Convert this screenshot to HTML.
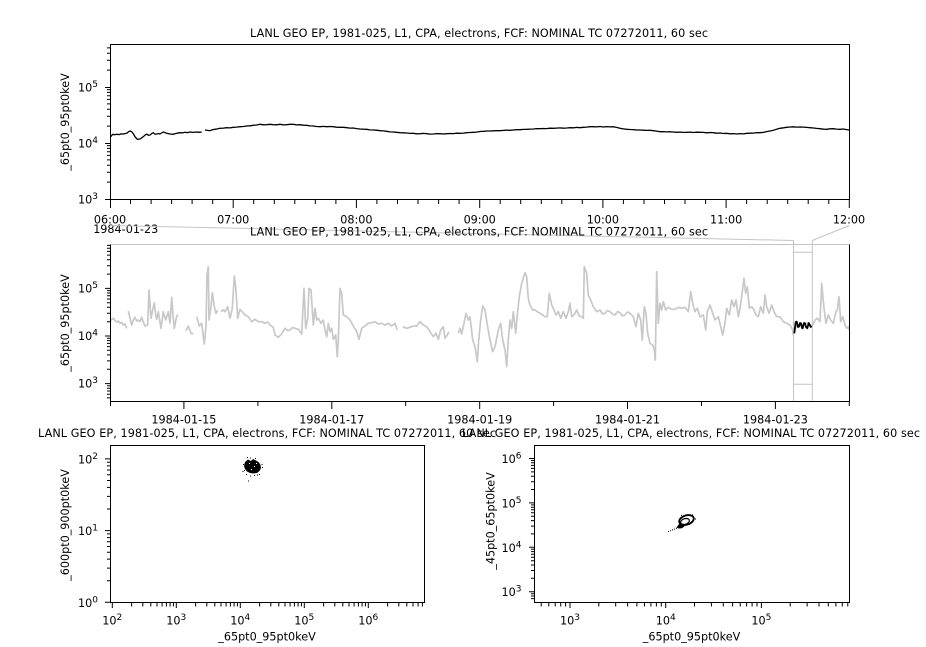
<!DOCTYPE html>
<html><head><meta charset="utf-8"><style>
html,body{margin:0;padding:0;background:#fff;}
svg{display:block;}
text{font-family:"DejaVu Sans","Liberation Sans",sans-serif;font-size:11.2px;fill:#000;}
.sup{font-size:9px;}
</style></head><body>
<svg width="926" height="647" viewBox="0 0 926 647" xmlns="http://www.w3.org/2000/svg">
<rect width="926" height="647" fill="#fff"/>

<!-- ================= TOP PANEL ================= -->
<text x="479" y="37" text-anchor="middle" textLength="458" lengthAdjust="spacing">LANL GEO EP, 1981-025, L1, CPA, electrons, FCF: NOMINAL TC 07272011, 60 sec</text>
<rect x="110.5" y="44.5" width="739" height="155" fill="none" stroke="#000" stroke-width="1"/>
<!-- y ticks -->
<path stroke="#000" stroke-width="1" fill="none" d="
M105,199.5H110 M105,143.5H110 M105,87.5H110
M107,182.1H110 M107,172.3H110 M107,165.3H110 M107,159.9H110 M107,155.4H110 M107,151.7H110 M107,148.4H110 M107,145.6H110
M107,126.1H110 M107,116.3H110 M107,109.3H110 M107,103.9H110 M107,99.4H110 M107,95.7H110 M107,92.4H110 M107,89.6H110
M107,70.1H110 M107,60.3H110 M107,53.3H110 M107,47.9H110"/>
<text x="98" y="91.5" text-anchor="end">10<tspan class="sup" dy="-4.5">5</tspan></text>
<text x="98" y="147.5" text-anchor="end">10<tspan class="sup" dy="-4.5">4</tspan></text>
<text x="98" y="203.5" text-anchor="end">10<tspan class="sup" dy="-4.5">3</tspan></text>
<text transform="translate(69,122) rotate(-90)" text-anchor="middle">_65pt0_95pt0keV</text>
<!-- x ticks -->
<path stroke="#000" stroke-width="1" fill="none" d="
M110.5,200V208 M233.2,200V208 M356.4,200V208 M479.7,200V208 M602.9,200V208 M726.1,200V208 M849.3,200V208
M130.5,200V204 M151.1,200V204 M171.6,200V204 M192.1,200V204 M212.7,200V204
M253.7,200V204 M274.3,200V204 M294.8,200V204 M315.3,200V204 M335.9,200V204
M376.9,200V204 M397.5,200V204 M418,200V204 M438.6,200V204 M459.1,200V204
M500.2,200V204 M520.7,200V204 M541.3,200V204 M561.8,200V204 M582.3,200V204
M623.4,200V204 M644,200V204 M664.5,200V204 M685,200V204 M705.6,200V204
M746.6,200V204 M767.2,200V204 M787.7,200V204 M808.2,200V204 M828.8,200V204"/>
<text x="110" y="223.5" text-anchor="middle">06:00</text>
<text x="233.2" y="223.5" text-anchor="middle">07:00</text>
<text x="356.4" y="223.5" text-anchor="middle">08:00</text>
<text x="479.7" y="223.5" text-anchor="middle">09:00</text>
<text x="602.9" y="223.5" text-anchor="middle">10:00</text>
<text x="726.1" y="223.5" text-anchor="middle">11:00</text>
<text x="849" y="223.5" text-anchor="middle">12:00</text>
<text x="93.2" y="233.2">1984-01-23</text>
<!-- top data -->
<polyline fill="none" stroke="#000" stroke-width="1.3" stroke-linejoin="round" points="110.7,136.7 112.7,134.3 114.5,134.8 116.7,134.3 119,134.6 121,133.9 123.3,134 126.7,133.3 128.5,131.8 130,131 131.7,131.7 133.5,134 135,136.7 137.3,139.3 140,139 143.3,136.7 145,135.2 146.7,134 148.5,135.3 150,135 151.7,133.6 153.3,132.7 155,134.2 156.7,134 158.5,133.5 160,134 163.3,132 166.7,133.3 170,134 173.3,134.3 176.7,133.3 180,132.7 182.5,132.9 185,132.3 187.5,132.6 190,132 193,132.4 196.7,132 199,132.3 201.7,132"/>
<polyline fill="none" stroke="#000" stroke-width="1.3" stroke-linejoin="round" points="205,130 207.5,130.4 210,130.7 212.5,129.7 215,129.3 217.5,128.9 220,128.3 223.5,128.1 226.7,127.7 230,127.9 233.3,127.3 236.5,127.1 240,126.7 243.5,126.5 246.7,126 250,125.8 253.3,125.3 256.5,125 260,124.3 263.5,124.8 266.7,124.7 270,124.3 273.3,124.7 276.5,124.8 280,124.3 283.5,124.9 286.7,124.7 290,124.3 293.3,124.3 296.5,124.9 300,124.7 303.5,125.2 306.7,125.3 310,125.9 313.3,126 316.5,126.5 320,126.7 323.5,126.4 326.7,126.7 330,126.5 333.3,126.7 336.5,127.2 340,127.3 343.5,127.3 346.7,127.7 350,128.1 353.3,128 356.5,128.6 360,129 363.5,129.2 366.7,129.3 370,129.9 373.3,130 376.5,130.2 380,130.7 383.5,130.9 386.7,131.3 390,131.9 393.3,132 396.5,132.3 400,132.7 403.5,132.8 406.7,133 410,133.4 413.3,133.3 416.5,133.8 420,133.7 423.5,133.4 426.7,133.7 430,134.1 433.3,134 436.5,133.6 440,133.7 443.5,134 446.7,133.7 450,133.5 453.5,133.6 456.5,133.2 460,133.3 463.5,133.1 466.5,132.7 470,132.5 473.3,132.3 476.5,132.1 480,131.5 483.5,131.3 486.7,131 490,131 493.5,130.8 496.5,130.6 500,130.7 503.5,130.4 506.5,130.2 510,130.3 513.3,130 516.5,129.7 520,129.7 523.5,129.4 526.7,129.3 530,129.1 533.5,129 536.5,128.6 540,128.7 543.5,128.5 546.5,128.6 550,128.2 553.3,128.3 556.5,128.1 560,127.9 563.5,128.2 566.7,128 570,127.7 573.5,127.8 576.5,127.4 580,127.7 583.5,127.3 586.5,127.1 590,126.7 593.3,126.7 596.5,126.9 600,126.5 603.3,127 606.5,126.6 610,126.9 613.3,126.7 616.5,127.4 620,128.3 623.5,128.9 626.7,129.3 630,129.5 633.5,129.6 636.5,130 640,130 643.5,130.2 646.5,130.4 650,130.3 653.3,130.7 656.5,131.1 660,131.7 663.5,131.6 666.5,131.9 670,131.8 673.3,132 676.5,132.3 680,132.1 683.5,132.4 686.7,132.3 690,132.1 693.5,132.5 696.5,132.2 700,132.3 703.5,132.4 706.5,132.8 710,132.5 713.3,132.7 716.5,133.2 720,133 723.5,133.5 726.7,133.3 730,133.8 733.5,133.6 736.7,134 740,133.6 743.5,133.9 746.7,133.3 750,133.2 753.5,133.1 756.5,132.6 760,132.7 763.5,132.4 766.5,131.6 770,131 773.5,130.3 776.5,129.2 780,128.3 783.5,127.8 786.5,127.3 790,127 793.5,126.8 796.5,127.1 800,127 803.5,127.1 806.5,127.4 810,127.7 813.5,128 816.5,128.4 820,128.7 823.5,129.2 826.7,129.3 830,128.8 833.3,128.7 836.5,129.1 840,129.3 843.5,129 846.5,129.6 849.3,130"/>

<!-- ================= CONNECTORS ================= -->
<path stroke="#c4c4c4" stroke-width="1" fill="none" d="M110,225.5 L793.5,240.5 M849.3,225.5 L812.3,240.5 M793.5,240.5V401 M812.3,240.5V401 M793.5,252.3H812.3 M793.5,384.3H812.3"/>

<!-- ================= MIDDLE PANEL ================= -->
<text x="479" y="235.5" text-anchor="middle" textLength="458" lengthAdjust="spacing">LANL GEO EP, 1981-025, L1, CPA, electrons, FCF: NOMINAL TC 07272011, 60 sec</text>
<g fill="none" stroke="#c8c8c8" stroke-width="1.7" stroke-linejoin="round">
<polyline points="110,321.7 111.5,319.5 113.3,318.3 115,320.6 116.7,322 118.3,321 120,323.3 121.7,322.4 123.3,325 125,324 126.7,328.3"/>
<polyline points="128.3,311 130,318 131.7,325 133.3,320 135,317.3 136.7,321 138.3,320 140,321.5 141.7,317.3 143.3,322 145,326 147.7,325 149,290 150,305 151,318.3 152.7,310 154.3,302.7 155.7,315 156.7,319.3 158.3,311.7 161,328.3 163.3,311.7 165.7,320 168.3,311.7 170,323.3 171.7,297.3 173,315 174.3,328.3 176.7,316 178.3,315"/>
<polyline points="186,330.7 188.3,326 191,333.3 193.3,334"/>
<polyline points="196.7,316.7 199.3,326 201.7,323.3 204.3,344 206,326 207,275 208.3,266.7 209,320 211,306.7 212.3,292.7 214.3,306.7 216,313.3 217.7,310"/>
<polyline points="221,311.7 223,309.8 225,311.7 227.7,306.7 230,318.3 232.3,308.3 234.3,276 235.7,286.7 237.7,318.3 240,309.3 242.3,311.7 245,315 248.3,316.7 251.7,321.7 255,319.3 258.3,321.7 261.7,321.7 265,323.3 267.5,322 270,325 273.3,327.3 275,335 278.3,337.3 281.7,334 285,328.3 287.5,330.5 290,330 292.5,327.5 295,328.3 298.3,329.3 301.7,334 304,288.3 305.7,328.3 307.7,318.3 309,288.3 311,290 313.3,325 315,308.3 316.7,320 318.3,318.3 321,323.3 323.3,320 325,330 326.7,336.7 328.3,323.3 330,331.7 331.7,328.3 333.3,339.3 335.7,335 337.3,356.7 338.3,340 340,288.3 341.7,293.3 343.3,315 346.7,316.7 350,320 353.3,326 356.7,331.7 359,339.3 361.7,328.3 365,326 368.3,323.3 371.7,322.7 375,321.7 378.3,324 381.7,323.3 385,325 388.3,323.3 391.7,326 395,323.3 397.3,330"/>
<polyline points="402.7,326.7 406.7,328.3 410,327.3 413.3,326 416.7,326 420,321.7 423.3,325 426.7,326.7 430,331.7 433.3,336.7 436,333.3 438.3,339.3 440.7,330 443.3,326.7 445,338.3 447.3,335 448.7,331.7"/>
<polyline points="458.3,333.3 460,328.3 461.7,334 463.3,326.7 466,313.3 468.3,320 470,316.7 472.7,340 475,346.7 477.3,361.7 478.7,340 480.7,320 482.7,306 485,310 487.3,325 490,340 492.7,351.7 495,346.7 498.3,330 500.7,323.3 502.7,340 505,350 506.7,366.7 508.3,340 510,320 511.7,328.3 513.3,311.7 515.7,333.3 517.3,315 519.3,296.7 521.7,283.3 523.3,278.3 525,272.7 526.7,276.7 528.3,298.3 530,305 532.7,310 535,310 537.3,311.7 540,313.3 542.7,315 545,316.7 547.3,316.7 549.3,293.3 551.7,305 554,310 556,315 558.3,311.7 560.7,318.3 563.3,311.7 566,318.3 568.3,311.7 570,303.3 571.7,316.7 574,315 576.7,310 579.3,316 581.7,316.7 583.3,318.3 584.3,266.7 586.7,273.3 588.3,295 590.7,300 593.3,306.7 596.7,311.7 600,310 602.5,314 605,313.3 607.5,310.5 610,311.7 612.5,314 615,315 617.5,311.5 620,312.7 622.5,316 625,315 627.5,312 630,313.3 633.3,316.7 636,326.7 638.3,313.3 640.7,320 642.3,340 644.3,306.7 646,313.3 647.7,333.3 650,343.3 652.7,345 654.3,350 655.3,360 656.7,271.7 658.3,323.3 660,303.3 661.7,310 663.3,301.7 665.7,310 668.3,307.3 671.7,309.3 675,309.3 678.3,307.3 681.7,308.3 685,307.3 688.3,311.7 690.7,291.7 692.7,303.3 695,311.7 697.3,308.3 700,316.7 703.3,315 705.7,330 707.3,311.7 710,305 712.7,313.3 715,320 718.3,316.7 720.7,326.7 722.7,335 725,323.3 726.7,308.3 729.3,315 731.7,300 734,306.7 736,300 738.3,316.7 740,308.3 742.3,291.7 744,278.3 745.7,293.3 747.3,286.7 749.3,308.3 751.7,306.7 754,310 756,315 758.3,316.7 760.7,306.7 763.3,313.3 765,295 766.7,306.7 769,313.3 771.7,305 774,311.7 776.7,316.7 780,316.7 783.3,321.7 786.7,323.3 790,325 792.7,330 793.3,335 796.7,325 801.7,325 806.7,323 811.7,326 812.7,325 815,320 817.3,318.3 820,321.7 821.7,283.3 824,308.3 826,323.3 828.3,315 830.7,320 833.3,323.3 836,311.7 837.3,310 839,296.7 840.7,321.7 842.7,316.7 845,325 846.7,328.3 848.3,326.7 849,330"/>
</g>
<polyline fill="none" stroke="#000" stroke-width="1.8" stroke-linejoin="round" points="794.3,333.3 795.7,322 796.7,321.7 798,327 799,326.7 800,323 801,323.3 802,328 802.7,328.3 804,323 805,323.3 806,327 807.3,328.3 808.7,323 809.3,324 810.7,327 811.7,326"/>
<!-- frame -->
<path stroke="#c4c4c4" stroke-width="1" fill="none" d="M110.5,244.5H849.5"/>
<path stroke="#000" stroke-width="1" fill="none" d="M110.5,244.5V401.5H849.5V244.5"/>
<!-- y ticks -->
<path stroke="#000" stroke-width="1" fill="none" d="
M105,383.6H110 M105,336H110 M105,288.4H110
M107,397.9H110 M107,394.2H110 M107,391H110 M107,388.2H110 M107,385.8H110
M107,369.3H110 M107,360.9H110 M107,354.9H110 M107,350.3H110 M107,346.6H110 M107,343.4H110 M107,340.6H110 M107,338.2H110
M107,321.7H110 M107,313.3H110 M107,307.3H110 M107,302.7H110 M107,299H110 M107,295.8H110 M107,293H110 M107,290.6H110
M107,274.1H110 M107,265.7H110 M107,259.7H110 M107,255.1H110 M107,251.4H110 M107,248.2H110 M107,245.4H110"/>
<text x="98" y="292.5" text-anchor="end">10<tspan class="sup" dy="-4.5">5</tspan></text>
<text x="98" y="340" text-anchor="end">10<tspan class="sup" dy="-4.5">4</tspan></text>
<text x="98" y="387.6" text-anchor="end">10<tspan class="sup" dy="-4.5">3</tspan></text>
<text transform="translate(69,323) rotate(-90)" text-anchor="middle">_65pt0_95pt0keV</text>
<!-- x ticks -->
<path stroke="#000" stroke-width="1" fill="none" d="
M183.9,402V409 M331.8,402V409 M479.7,402V409 M627.5,402V409 M775.4,402V409
M110.5,402V406 M257.9,402V406 M405.7,402V406 M553.6,402V406 M701.5,402V406 M849.3,402V406"/>
<text x="183.9" y="423.5" text-anchor="middle">1984-01-15</text>
<text x="331.8" y="423.5" text-anchor="middle">1984-01-17</text>
<text x="479.7" y="423.5" text-anchor="middle">1984-01-19</text>
<text x="627.5" y="423.5" text-anchor="middle">1984-01-21</text>
<text x="775.4" y="423.5" text-anchor="middle">1984-01-23</text>

<!-- ================= BOTTOM LEFT ================= -->
<text x="267" y="436.8" text-anchor="middle" textLength="458" lengthAdjust="spacing">LANL GEO EP, 1981-025, L1, CPA, electrons, FCF: NOMINAL TC 07272011, 60 sec</text>
<rect x="110.5" y="445.5" width="314" height="157" fill="none" stroke="#000" stroke-width="1"/>
<path stroke="#000" stroke-width="1" fill="none" d="
M105,602.3H110 M105,530.6H110 M105,458.9H110
M107,580.7H110 M107,568.1H110 M107,559.1H110 M107,552.2H110 M107,546.5H110 M107,541.7H110 M107,537.6H110 M107,533.9H110
M107,509H110 M107,496.4H110 M107,487.4H110 M107,480.5H110 M107,474.8H110 M107,470H110 M107,465.9H110 M107,462.2H110"/>
<text x="98" y="606.8" text-anchor="end">10<tspan class="sup" dy="-4.5">0</tspan></text>
<text x="98" y="535.1" text-anchor="end">10<tspan class="sup" dy="-4.5">1</tspan></text>
<text x="98" y="463.4" text-anchor="end">10<tspan class="sup" dy="-4.5">2</tspan></text>
<text transform="translate(69,525) rotate(-90)" text-anchor="middle">_600pt0_900pt0keV</text>
<path stroke="#000" stroke-width="1" fill="none" d="
M112.3,603V608 M176.3,603V608 M240.3,603V608 M304.3,603V608 M368.3,603V608
M131.6,603V606.5 M142.8,603V606.5 M150.8,603V606.5 M157,603V606.5 M162.1,603V606.5 M166.4,603V606.5 M170.1,603V606.5 M173.4,603V606.5
M195.6,603V606.5 M206.8,603V606.5 M214.8,603V606.5 M221,603V606.5 M226.1,603V606.5 M230.4,603V606.5 M234.1,603V606.5 M237.4,603V606.5
M259.6,603V606.5 M270.8,603V606.5 M278.8,603V606.5 M285,603V606.5 M290.1,603V606.5 M294.4,603V606.5 M298.1,603V606.5 M301.4,603V606.5
M323.6,603V606.5 M334.8,603V606.5 M342.8,603V606.5 M349,603V606.5 M354.1,603V606.5 M358.4,603V606.5 M362.1,603V606.5 M365.4,603V606.5
M387.6,603V606.5 M398.8,603V606.5 M406.8,603V606.5 M413,603V606.5 M418.1,603V606.5 M422.4,603V606.5"/>
<text x="112.3" y="624.5" text-anchor="middle">10<tspan class="sup" dy="-4.5">2</tspan></text>
<text x="176.3" y="624.5" text-anchor="middle">10<tspan class="sup" dy="-4.5">3</tspan></text>
<text x="240.3" y="624.5" text-anchor="middle">10<tspan class="sup" dy="-4.5">4</tspan></text>
<text x="304.3" y="624.5" text-anchor="middle">10<tspan class="sup" dy="-4.5">5</tspan></text>
<text x="368.3" y="624.5" text-anchor="middle">10<tspan class="sup" dy="-4.5">6</tspan></text>
<text x="267" y="640.5" text-anchor="middle">_65pt0_95pt0keV</text>
<!-- scatter blob -->
<path fill="#000" d="M245,462 L248,459.5 L251,461 L253,459 L256,460.5 L259,462.5 L260.5,465 L261,468 L259.5,471 L257,473 L253.5,473.5 L250,473 L247,471.5 L245,469 L244,466 Z"/>
<g fill="#000">
<rect x="247" y="457" width="1" height="1"/><rect x="250" y="457.5" width="1" height="1"/><rect x="255" y="458" width="1" height="1"/>
<rect x="242.5" y="471" width="1" height="1"/><rect x="244" y="470" width="1" height="1"/><rect x="248" y="480.5" width="1" height="1"/>
<rect x="262" y="467" width="1" height="1"/><rect x="261.5" y="464" width="1" height="1"/><rect x="250" y="475.5" width="1" height="1"/>
<rect x="254" y="475" width="1" height="1"/><rect x="257" y="474.5" width="1" height="1"/><rect x="246" y="474" width="1" height="1"/>
<rect x="243" y="464" width="1" height="1"/><rect x="259" y="474" width="1" height="1"/>
</g>
<g fill="#fff">
<rect x="249" y="463" width="1" height="1"/><rect x="254" y="466" width="1" height="1"/><rect x="251" y="469" width="1" height="1"/><rect x="256" y="463" width="1" height="1"/>
</g>

<!-- ================= BOTTOM RIGHT ================= -->
<text x="691" y="436.8" text-anchor="middle" textLength="458" lengthAdjust="spacing">LANL GEO EP, 1981-025, L1, CPA, electrons, FCF: NOMINAL TC 07272011, 60 sec</text>
<rect x="534.5" y="445.5" width="315" height="157" fill="none" stroke="#000" stroke-width="1"/>
<path stroke="#000" stroke-width="1" fill="none" d="
M529,591.7H534 M529,547.3H534 M529,502.9H534 M529,458.5H534
M531,598.6H534 M531,596H534 M531,593.7H534
M531,578.3H534 M531,570.5H534 M531,565H534 M531,560.7H534 M531,557.2H534 M531,554.2H534 M531,551.6H534 M531,549.3H534
M531,533.9H534 M531,526.1H534 M531,520.6H534 M531,516.3H534 M531,512.8H534 M531,509.8H534 M531,507.2H534 M531,504.9H534
M531,489.5H534 M531,481.7H534 M531,476.2H534 M531,471.9H534 M531,468.4H534 M531,465.4H534 M531,462.8H534 M531,460.5H534"/>
<text x="521.5" y="596.2" text-anchor="end">10<tspan class="sup" dy="-4.5">3</tspan></text>
<text x="521.5" y="551.8" text-anchor="end">10<tspan class="sup" dy="-4.5">4</tspan></text>
<text x="521.5" y="507.4" text-anchor="end">10<tspan class="sup" dy="-4.5">5</tspan></text>
<text x="521.5" y="463" text-anchor="end">10<tspan class="sup" dy="-4.5">6</tspan></text>
<text transform="translate(494.5,521) rotate(-90)" text-anchor="middle">_45pt0_65pt0keV</text>
<path stroke="#000" stroke-width="1" fill="none" d="
M570,603V608 M665.7,603V608 M761.4,603V608
M541.2,603V606.5 M548.8,603V606.5 M555.2,603V606.5 M560.7,603V606.5 M565.6,603V606.5
M598.8,603V606.5 M615.7,603V606.5 M627.6,603V606.5 M636.9,603V606.5 M644.5,603V606.5 M650.9,603V606.5 M656.4,603V606.5 M661.3,603V606.5
M694.5,603V606.5 M711.4,603V606.5 M723.3,603V606.5 M732.6,603V606.5 M740.2,603V606.5 M746.6,603V606.5 M752.1,603V606.5 M757,603V606.5
M790.2,603V606.5 M807.1,603V606.5 M819,603V606.5 M828.3,603V606.5 M835.9,603V606.5 M842.3,603V606.5 M847.8,603V606.5"/>
<text x="570" y="624.5" text-anchor="middle">10<tspan class="sup" dy="-4.5">3</tspan></text>
<text x="665.7" y="624.5" text-anchor="middle">10<tspan class="sup" dy="-4.5">4</tspan></text>
<text x="761.4" y="624.5" text-anchor="middle">10<tspan class="sup" dy="-4.5">5</tspan></text>
<text x="691.5" y="640.5" text-anchor="middle">_65pt0_95pt0keV</text>
<!-- loop scatter -->
<ellipse cx="686.5" cy="520" rx="7.5" ry="4.6" transform="rotate(-18 686.5 520)" fill="none" stroke="#000" stroke-width="1.9"/>
<ellipse cx="685" cy="521.5" rx="4.5" ry="2.8" transform="rotate(-18 685 521.5)" fill="none" stroke="#000" stroke-width="1.2"/>
<path fill="#000" d="M676.5,527.5 L679.5,523.5 L683,523.8 L685.5,525.5 L682,528.2 L678.5,528.5 Z"/>
<g fill="#000">
<rect x="668" y="531" width="1" height="1"/><rect x="670" y="530.2" width="1" height="1"/><rect x="672" y="529.4" width="1" height="1"/>
<rect x="674" y="528.6" width="1" height="1"/><rect x="676" y="527.8" width="1" height="1"/><rect x="692" y="514.5" width="1" height="1"/>
<rect x="695" y="518.5" width="1" height="1"/><rect x="681" y="514.8" width="1" height="1"/>
</g>
</svg>
</body></html>
